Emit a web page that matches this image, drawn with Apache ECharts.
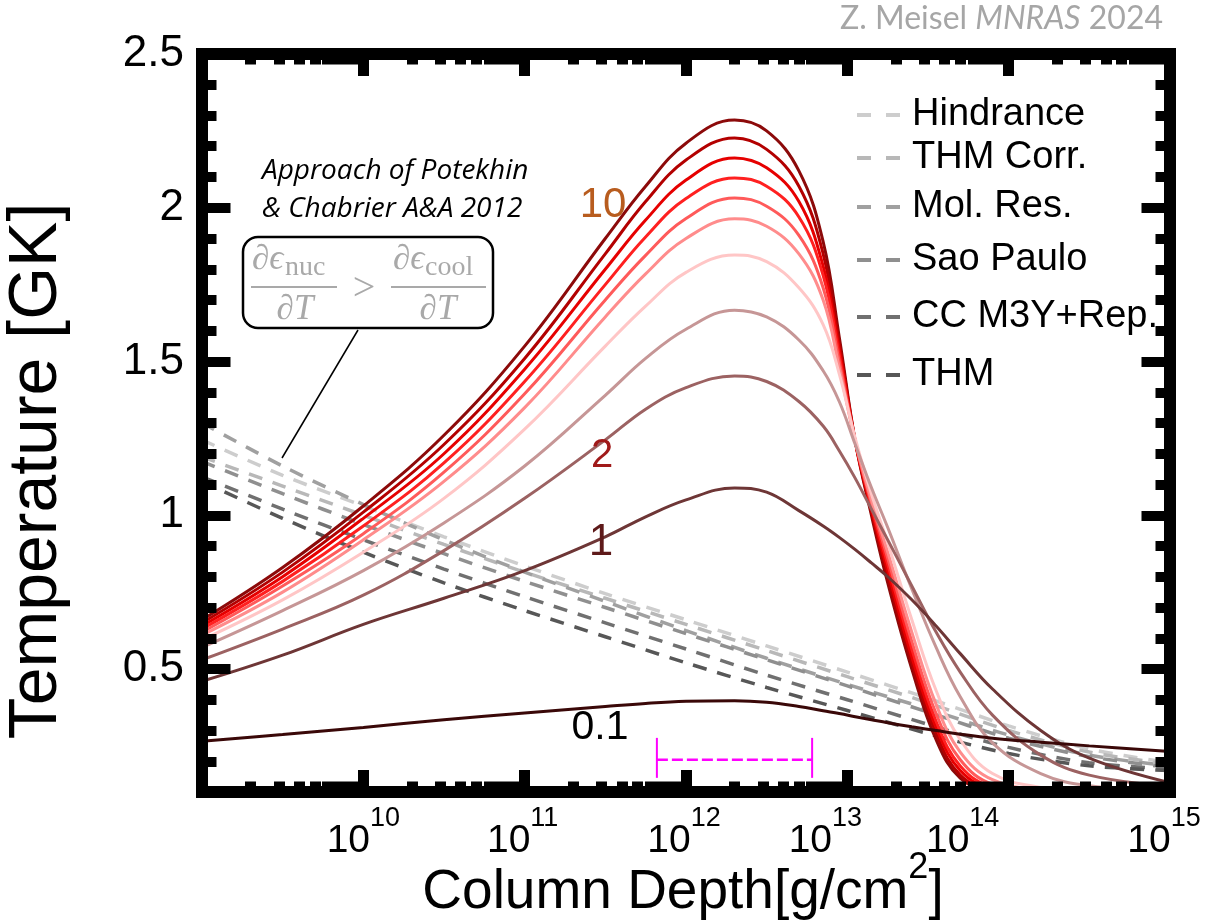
<!DOCTYPE html>
<html><head><meta charset="utf-8">
<script src="https://cdn.jsdelivr.net/npm/echarts@6/dist/echarts.min.js"></script>
<style>html,body{margin:0;padding:0;background:#fff}#c{width:1211px;height:920px}</style>
</head><body><div id="c"></div>
<script>
// ---------- DATA ----------
// column depth samples (g/cm^2) for the temperature profiles
const depth = [1e9, 3.16e9, 1e10, 3.16e10, 1e11, 3.16e11, 5.62e11, 1e12, 2e12, 3.16e12, 5.01e12, 7.08e12, 8.91e12, 1.12e13, 1.41e13, 1.78e13, 2.51e13, 3.55e13, 5.01e13, 7.94e13, 1.58e14, 3.16e14, 1e15];
const curveNames = ['10', '9', '8', '7', '6', '5', '4', '3', '2', '1', '0.1'];
const temp10 = [0.66, 0.83, 1.03, 1.26, 1.55, 1.90, 2.07, 2.21, 2.285, 2.25, 2.12, 1.89, 1.58, 1.24, 1.00, 0.78, 0.50, 0.27, 0.145, 0.105, 0.10, 0.10, 0.10];
const temp9 = [0.65, 0.815, 1.01, 1.23, 1.51, 1.85, 2.02, 2.155, 2.227, 2.19, 2.07, 1.85, 1.56, 1.24, 1.01, 0.80, 0.52, 0.29, 0.155, 0.108, 0.101, 0.10, 0.10];
const temp8 = [0.64, 0.80, 0.99, 1.20, 1.475, 1.80, 1.96, 2.09, 2.162, 2.13, 2.02, 1.81, 1.54, 1.24, 1.02, 0.82, 0.54, 0.31, 0.17, 0.112, 0.102, 0.10, 0.10];
const temp7 = [0.63, 0.785, 0.965, 1.17, 1.435, 1.75, 1.905, 2.03, 2.097, 2.07, 1.97, 1.78, 1.52, 1.24, 1.03, 0.84, 0.565, 0.33, 0.185, 0.117, 0.103, 0.10, 0.10];
const temp6 = [0.62, 0.77, 0.94, 1.14, 1.395, 1.70, 1.845, 1.965, 2.032, 2.005, 1.91, 1.74, 1.50, 1.24, 1.04, 0.86, 0.59, 0.355, 0.205, 0.125, 0.105, 0.101, 0.10];
const temp5 = [0.61, 0.75, 0.92, 1.11, 1.35, 1.645, 1.785, 1.90, 1.964, 1.94, 1.85, 1.70, 1.48, 1.24, 1.05, 0.88, 0.62, 0.385, 0.23, 0.14, 0.108, 0.102, 0.10];
const temp4 = [0.595, 0.725, 0.88, 1.055, 1.28, 1.55, 1.68, 1.79, 1.846, 1.825, 1.74, 1.62, 1.46, 1.25, 1.07, 0.91, 0.66, 0.43, 0.27, 0.16, 0.115, 0.104, 0.10];
const temp3 = [0.57, 0.69, 0.82, 0.975, 1.16, 1.39, 1.51, 1.605, 1.667, 1.645, 1.57, 1.47, 1.37, 1.23, 1.09, 0.96, 0.76, 0.57, 0.41, 0.26, 0.16, 0.12, 0.105];
const temp2 = [0.53, 0.63, 0.74, 0.885, 1.055, 1.245, 1.345, 1.415, 1.453, 1.435, 1.37, 1.29, 1.21, 1.12, 1.02, 0.92, 0.77, 0.62, 0.49, 0.35, 0.22, 0.155, 0.117];
const temp1 = [0.46, 0.545, 0.645, 0.73, 0.82, 0.93, 0.995, 1.05, 1.089, 1.075, 1.015, 0.965, 0.928, 0.888, 0.845, 0.80, 0.725, 0.64, 0.55, 0.435, 0.30, 0.21, 0.13];
const temp01 = [0.265, 0.287, 0.31, 0.335, 0.357, 0.378, 0.388, 0.395, 0.397, 0.392, 0.378, 0.364, 0.355, 0.345, 0.335, 0.325, 0.312, 0.30, 0.288, 0.275, 0.262, 0.25, 0.232];
const curveValues = [temp10, temp9, temp8, temp7, temp6, temp5, temp4, temp3, temp2, temp1, temp01];

// dashed "approach" lines (nuclear heating slope = cooling slope)
const dashDepth = [1e9, 3.16e9, 1e10, 3.16e10, 1e11, 3.16e11, 1e12, 3.16e12, 1e13, 3.16e13, 1e14, 3.16e14, 1e15];
const modelNames = ['Hindrance', 'THM Corr.', 'Mol. Res.', 'Sao Paulo', 'CC M3Y+Rep.', 'THM'];
const hindrance = [1.245, 1.13, 1.03, 0.93, 0.835, 0.745, 0.66, 0.575, 0.49, 0.405, 0.315, 0.24, 0.195];
const thmCorr = [1.19, 1.095, 1.0, 0.905, 0.815, 0.73, 0.645, 0.56, 0.475, 0.39, 0.30, 0.23, 0.19];
const molRes = [1.30, 1.16, 1.035, 0.92, 0.815, 0.72, 0.625, 0.535, 0.45, 0.37, 0.285, 0.22, 0.185];
const saoPaulo = [1.175, 1.07, 0.97, 0.875, 0.785, 0.70, 0.615, 0.53, 0.445, 0.36, 0.275, 0.215, 0.18];
const ccM3Y = [1.125, 1.02, 0.92, 0.825, 0.735, 0.65, 0.565, 0.48, 0.40, 0.32, 0.245, 0.195, 0.175];
const thm = [1.11, 0.99, 0.88, 0.78, 0.69, 0.605, 0.52, 0.44, 0.365, 0.29, 0.225, 0.185, 0.17];
const modelValues = [hindrance, thmCorr, molRes, saoPaulo, ccM3Y, thm];

// magenta depth range bar
const rangeX = [6.6e11, 6.05e12];
const rangeY = 0.205;
const rangeCapY = [0.146, 0.276];

// axis ticks
const xMajorTicks = [1e9, 1e10, 1e11, 1e12, 1e13, 1e14, 1e15];
const xLabelTicks = [1e10, 1e11, 1e12, 1e13, 1e14, 9.999e14];
const xLabelExponents = [10, 11, 12, 13, 14, 15];
const xMinorTicks = [2e9,3e9,4e9,5e9,6e9,7e9,8e9,9e9, 2e10,3e10,4e10,5e10,6e10,7e10,8e10,9e10, 2e11,3e11,4e11,5e11,6e11,7e11,8e11,9e11, 2e12,3e12,4e12,5e12,6e12,7e12,8e12,9e12, 2e13,3e13,4e13,5e13,6e13,7e13,8e13,9e13, 2e14,3e14,4e14,5e14,6e14,7e14,8e14,9e14];
const yMajorTicks = [0.5, 1, 1.5, 2, 2.5];
const yMinorTicks = [0.2,0.3,0.4,0.6,0.7,0.8,0.9,1.1,1.2,1.3,1.4,1.6,1.7,1.8,1.9,2.1,2.2,2.3,2.4];

// ---------- STYLE / LAYOUT ----------
const FONT = '"Liberation Sans", Arial, sans-serif';
const curveColors = ['#8c0a0a', '#b30000', '#e60000', '#ff2020', '#ff5a5a', '#ff8c8c', '#ffc6c6', '#c69696', '#9c6262', '#6e3636', '#3a0808'];
const modelColors = ['#cdcdcd', '#b8b8b8', '#a0a0a0', '#8f8f8f', '#707070', '#575757'];
const legendRowCenters = [115, 158, 207, 260, 317, 375];
// the original's tick labels sit left of their ticks by these many pixels
const xLabelNudge = { 10: 0, 11: 2, 12: 2, 13: 22, 14: 46, 15: 6 };

const labelRich = {
  b: { fontSize: 39, fontFamily: FONT, color: '#000', lineHeight: 56, verticalAlign: 'bottom' },
  s: { fontSize: 27, fontFamily: FONT, color: '#000', lineHeight: 27, verticalAlign: 'top' }
};
Object.values(xLabelNudge).forEach(n => { if (n) labelRich['g' + n] = { width: 2 * n, lineHeight: 27 }; });

function xAxisDef(pos, major) {
  return {
    type: 'log', logBase: 10, min: 1e9, max: 1e15, position: pos, z: 10,
    axisLine: { show: major, onZero: false, lineStyle: { color: '#000', width: 12, cap: 'square' } },
    axisTick: { show: true, inside: true, length: major ? 22 : 10.5,
      customValues: major ? xMajorTicks : xMinorTicks,
      lineStyle: { color: '#000', width: 11 } },
    axisLabel: { show: major && pos === 'bottom', customValues: xLabelTicks, margin: 13,
      showMinLabel: true, showMaxLabel: true, hideOverlap: false,
      formatter: v => {
        const e = Math.round(Math.log10(v));
        const n = xLabelNudge[e];
        return '{b|10}{s|' + xLabelExponents[xLabelExponents.indexOf(e)] + '}' + (n ? '{g' + n + '| }' : '');
      },
      rich: labelRich },
    splitLine: { show: false }, minorTick: { show: false }, minorSplitLine: { show: false }
  };
}
function yAxisDef(pos, major) {
  return {
    type: 'value', min: 0.1, max: 2.5, position: pos, z: 10,
    axisLine: { show: major, onZero: false, lineStyle: { color: '#000', width: 12, cap: 'square' } },
    axisTick: { show: true, inside: true, length: major ? 28.5 : 14.5,
      customValues: major ? yMajorTicks : yMinorTicks,
      lineStyle: { color: '#000', width: 10 } },
    axisLabel: { show: major && pos === 'left', customValues: yMajorTicks, margin: 18,
      fontSize: 44, fontFamily: FONT, color: '#000' },
    splitLine: { show: false }
  };
}

const series = [];
modelNames.forEach((n, i) => {
  series.push({
    name: n, type: 'line', xAxisIndex: 0, yAxisIndex: 0, symbol: 'none', smooth: 0.3, z: 2,
    data: dashDepth.map((d, k) => [d, modelValues[i][k]]),
    lineStyle: { color: modelColors[i], width: 3.5, type: [14, 11] },
    itemStyle: { color: modelColors[i] }, silent: true
  });
});
curveNames.forEach((n, i) => {
  series.push({
    name: 'rate ' + n, type: 'line', xAxisIndex: 0, yAxisIndex: 0, symbol: 'none', smooth: 0.4, z: 3,
    data: depth.map((d, k) => [d, curveValues[i][k]]),
    lineStyle: { color: curveColors[i], width: 3 }, itemStyle: { color: curveColors[i] }, silent: true
  });
});
// magenta range marker
series.push({ name: 'range', type: 'line', symbol: 'none', z: 4, silent: true,
  data: [[rangeX[0], rangeY], [rangeX[1], rangeY]],
  lineStyle: { color: '#ff00ff', width: 2.5, type: [11, 4] } });
rangeX.forEach(x => series.push({ name: 'rangeCap', type: 'line', symbol: 'none', z: 4, silent: true,
  data: [[x, rangeCapY[0]], [x, rangeCapY[1]]], lineStyle: { color: '#ff00ff', width: 2 } }));

const legends = modelNames.map((n, i) => ({
  data: [n], left: 855, top: legendRowCenters[i] - 19, padding: 0, orient: 'vertical',
  itemWidth: 50, itemHeight: 14, itemGap: 0, selectedMode: false,
  textStyle: { fontSize: 38, fontFamily: FONT, color: '#000' },
  lineStyle: { width: 4, type: [14, 15] },
  itemStyle: { color: 'rgba(0,0,0,0)', borderWidth: 0, opacity: 0 }
}));

const GRAY = '#a9a9a9';
const SERIF = '"Liberation Serif", "DejaVu Serif", serif';
const graphic = [
  { type: 'text', x: 37, y: 471, rotation: Math.PI / 2, z: 100,
    style: { text: 'Temperature [GK]', fontSize: 68, fontFamily: FONT, fill: '#000', align: 'center', verticalAlign: 'middle' } },
  { type: 'text', x: 683, y: 885, z: 100,
    style: { text: '{b|Column Depth[g/cm}{s|2}{b|]}', align: 'center', verticalAlign: 'middle',
      rich: { b: { fontSize: 55, fontFamily: FONT, fill: '#000', lineHeight: 70, verticalAlign: 'bottom' },
              s: { fontSize: 36, fontFamily: FONT, fill: '#000', lineHeight: 36, verticalAlign: 'top' } } } },
  { type: 'text', x: 1163, y: 19, z: 100,
    style: { text: 'Z. Meisel {i|MNRAS} 2024', fontSize: 32, fontFamily: 'Lato, sans-serif', fill: '#a6a6a6', align: 'right', verticalAlign: 'middle',
      rich: { i: { fontSize: 32, fontFamily: 'Lato, sans-serif', fontStyle: 'italic', fill: '#a6a6a6' } } } },
  { type: 'text', x: 262, y: 171, z: 100,
    style: { text: 'Approach of Potekhin', fontSize: 28, fontStyle: 'italic', fontFamily: '"Open Sans", sans-serif', fill: '#000', align: 'left', verticalAlign: 'middle' } },
  { type: 'text', x: 262, y: 209, z: 100,
    style: { text: '& Chabrier A&A 2012', fontSize: 28, fontStyle: 'italic', fontFamily: '"Open Sans", sans-serif', fill: '#000', align: 'left', verticalAlign: 'middle' } },
  // curve labels
  { type: 'text', x: 603, y: 205, z: 100, style: { text: '10', fontSize: 42, fontFamily: FONT, fill: '#b85c1e', align: 'center', verticalAlign: 'middle' } },
  { type: 'text', x: 602, y: 456, z: 100, style: { text: '2', fontSize: 40, fontFamily: FONT, fill: '#a01a1a', align: 'center', verticalAlign: 'middle' } },
  { type: 'text', x: 601, y: 543, z: 100, style: { text: '1', fontSize: 44, fontFamily: FONT, fill: '#5e1a1a', align: 'center', verticalAlign: 'middle' } },
  { type: 'text', x: 600, y: 728, z: 100, style: { text: '0.1', fontSize: 41, fontFamily: FONT, fill: '#000', align: 'center', verticalAlign: 'middle' } },
  // formula box
  { type: 'line', z: 99, shape: { x1: 358, y1: 330, x2: 282, y2: 458 }, style: { stroke: '#000', lineWidth: 1.5 } },
  { type: 'rect', z: 100, shape: { x: 243, y: 237, width: 250, height: 91, r: 15 }, style: { fill: '#fff', stroke: '#000', lineWidth: 2.5 } },
  { type: 'text', x: 252, y: 260, z: 101, style: { text: '∂ϵ', fontSize: 35, fontStyle: 'italic', fontFamily: SERIF, fill: GRAY, align: 'left', verticalAlign: 'middle' } },
  { type: 'text', x: 285, y: 268, z: 101, style: { text: 'nuc', fontSize: 28, fontFamily: SERIF, fill: GRAY, align: 'left', verticalAlign: 'middle' } },
  { type: 'line', z: 101, shape: { x1: 251, y1: 287, x2: 337, y2: 287 }, style: { stroke: GRAY, lineWidth: 2 } },
  { type: 'text', x: 295, y: 310, z: 101, style: { text: '∂T', fontSize: 35, fontStyle: 'italic', fontFamily: SERIF, fill: GRAY, align: 'center', verticalAlign: 'middle' } },
  { type: 'text', x: 364, y: 289, z: 101, style: { text: '>', fontSize: 40, fontFamily: SERIF, fill: GRAY, align: 'center', verticalAlign: 'middle' } },
  { type: 'text', x: 393, y: 260, z: 101, style: { text: '∂ϵ', fontSize: 35, fontStyle: 'italic', fontFamily: SERIF, fill: GRAY, align: 'left', verticalAlign: 'middle' } },
  { type: 'text', x: 425, y: 268, z: 101, style: { text: 'cool', fontSize: 28, fontFamily: SERIF, fill: GRAY, align: 'left', verticalAlign: 'middle' } },
  { type: 'line', z: 101, shape: { x1: 391, y1: 287, x2: 486, y2: 287 }, style: { stroke: GRAY, lineWidth: 2 } },
  { type: 'text', x: 438, y: 310, z: 101, style: { text: '∂T', fontSize: 35, fontStyle: 'italic', fontFamily: SERIF, fill: GRAY, align: 'center', verticalAlign: 'middle' } }
];

const chart = echarts.init(document.getElementById('c'), null, { renderer: 'canvas' });
chart.setOption({
  animation: false,
  backgroundColor: '#fff',
  grid: { left: 202, right: 41, top: 54, bottom: 128, containLabel: false, outerBoundsMode: 'none' },
  xAxis: [xAxisDef('bottom', true), xAxisDef('bottom', false), xAxisDef('top', true), xAxisDef('top', false)],
  yAxis: [yAxisDef('left', true), yAxisDef('left', false), yAxisDef('right', true), yAxisDef('right', false)],
  legend: legends,
  series: series,
  graphic: { elements: graphic }
});
</script></body></html>
